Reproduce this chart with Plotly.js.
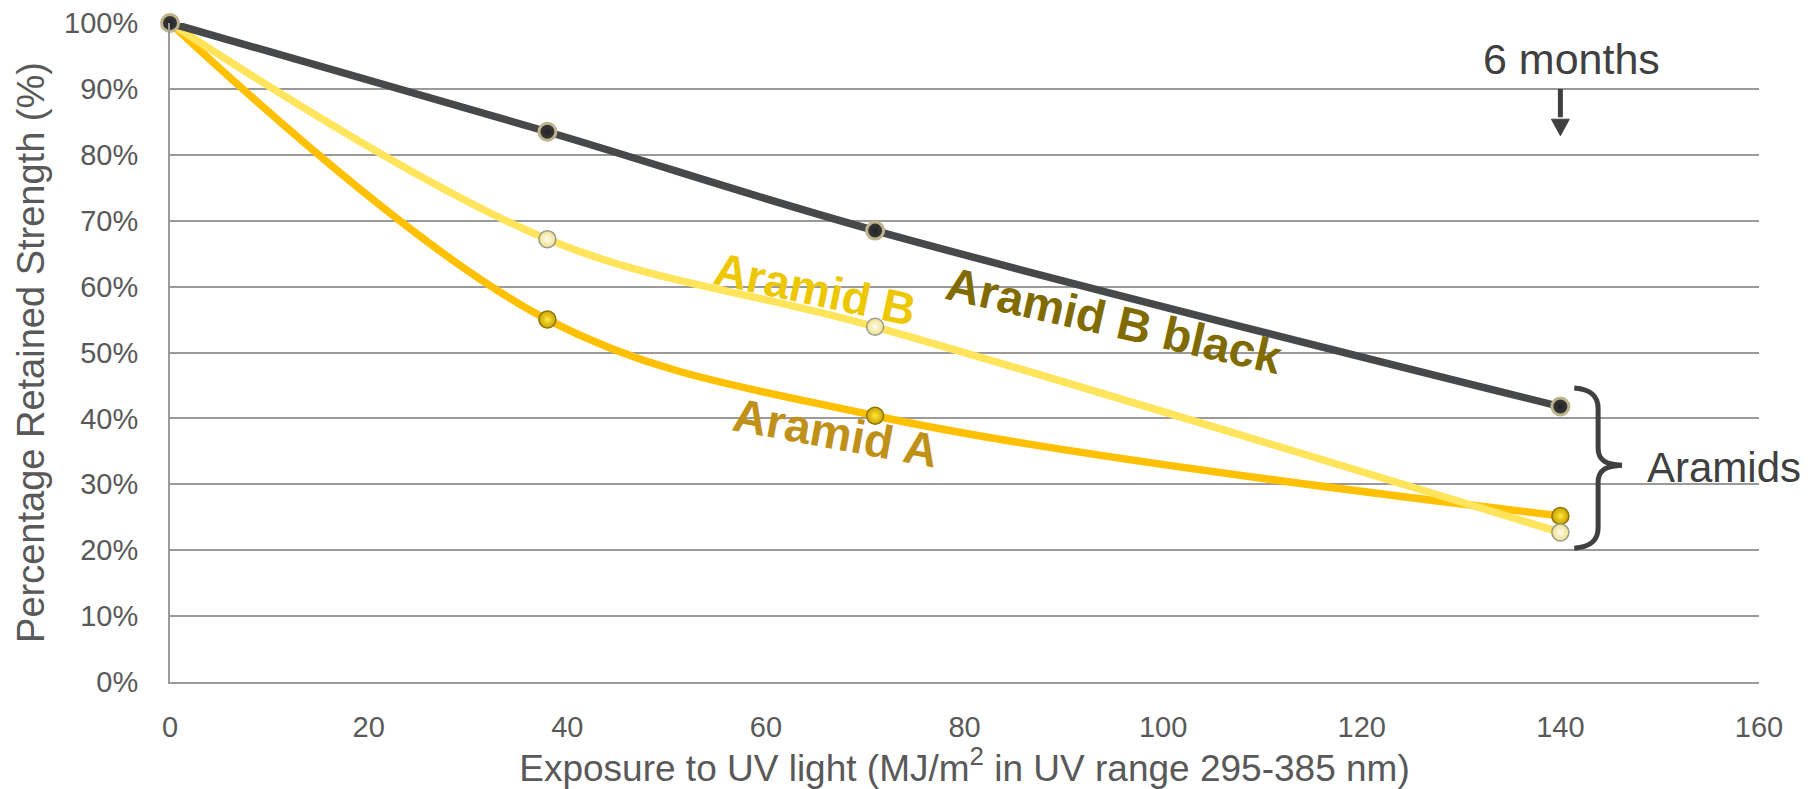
<!DOCTYPE html>
<html>
<head>
<meta charset="utf-8">
<script src="https://cdn.plot.ly/plotly-3.0.1.min.js"></script>
<style>
  html, body { margin: 0; padding: 0; background: #ffffff; }
  #chart { width: 1808px; height: 789px; }
</style>
</head>
<body>
<div id="chart"></div>
<script>
// UV exposure (MJ/m² in the 295-385 nm band)
const exposure = [0, 38, 71, 140];

// Retained tensile strength, percent
const aramidA      = [100, 55.0, 40.4, 25.2];
const aramidB      = [100, 67.2, 53.9, 22.7];
const aramidBBlack = [100, 83.5, 68.5, 41.8];

const xTicks = [0, 20, 40, 60, 80, 100, 120, 140, 160];
const yTicks = [0, 10, 20, 30, 40, 50, 60, 70, 80, 90, 100];

const FONT = 'Liberation Sans, Arial, Helvetica, sans-serif';
const INK = '#404040';

function series(name, y, lineColor, marker) {
  return {
    type: 'scatter',
    mode: 'lines+markers',
    name: name,
    x: exposure,
    y: y,
    cliponaxis: false,
    line: { color: lineColor, width: 7.5, shape: 'spline', smoothing: 1 },
    marker: marker,
    hoverinfo: 'x+y+name'
  };
}

const traces = [
  series('Aramid A', aramidA, '#FFC000', {
    size: 17, color: '#c9a200',
    gradient: { type: 'radial', color: '#ffe83a' },
    line: { color: '#8f7400', width: 1.5 }
  }),
  series('Aramid B', aramidB, '#FFE45C', {
    size: 17, color: '#efe08a',
    gradient: { type: 'radial', color: '#fffdf0' },
    line: { color: '#9a9a90', width: 1.5 }
  }),
  series('Aramid B black', aramidBBlack, '#46484a', {
    size: 17, color: '#3c3c38',
    gradient: { type: 'radial', color: '#222327' },
    line: { color: '#bdb48e', width: 3 }
  })
];

// Curly brace grouping the 140 MJ/m² end points
const bx0 = 141.4, bxv = 143.8, bxt = 146.2;
const byTop = 44.6, byTip = 32.9, byBot = 20.3;
const bracePath =
  `M ${bx0},${byTop} C ${bx0 + 1.6},${byTop - 0.2} ${bxv},${byTop - 1.1} ${bxv},${byTop - 3.1} ` +
  `L ${bxv},${byTip + 2.6} C ${bxv},${byTip + 0.7} ${bxv + 0.8},${byTip + 0.1} ${bxt},${byTip} ` +
  `C ${bxv + 0.8},${byTip - 0.1} ${bxv},${byTip - 0.7} ${bxv},${byTip - 2.6} ` +
  `L ${bxv},${byBot + 3.1} C ${bxv},${byBot + 1.1} ${bx0 + 1.6},${byBot + 0.2} ${bx0},${byBot}`;

// Downward arrow marking the six-month exposure (x = 140)
const arrowX = 140, arrowTop = 90.0, arrowBase = 85.4, arrowTip = 82.9, arrowHalf = 0.9;
const arrowHead = `M ${arrowX - arrowHalf},${arrowBase} L ${arrowX + arrowHalf},${arrowBase} L ${arrowX},${arrowTip} Z`;

const layout = {
  width: 1808,
  height: 789,
  margin: { l: 170, r: 49, t: 23, b: 107 },
  paper_bgcolor: '#ffffff',
  plot_bgcolor: '#ffffff',
  showlegend: false,
  font: { family: FONT, color: '#595959' },
  xaxis: {
    range: [0, 160],
    tickvals: xTicks,
    ticktext: xTicks.map(String),
    showgrid: false,
    zeroline: false,
    showline: true,
    linecolor: '#9a9a9a',
    linewidth: 2,
    ticks: '',
    ticklabelstandoff: 18,
    tickfont: { family: FONT, size: 29, color: '#595959' },
    title: {
      text: 'Exposure to UV light (MJ/m<sup>2</sup> in UV range 295-385 nm)',
      font: { family: FONT, size: 37, color: '#595959' },
      standoff: 12
    }
  },
  yaxis: {
    range: [0, 100],
    tickvals: yTicks,
    ticktext: yTicks.map(v => v + '%'),
    showgrid: true,
    gridcolor: '#9a9a9a',
    gridwidth: 2,
    zeroline: false,
    showline: true,
    linecolor: '#9a9a9a',
    linewidth: 2,
    ticks: '',
    ticklabelstandoff: 24,
    tickfont: { family: FONT, size: 29, color: '#595959' },
    title: {
      text: 'Percentage Retained Strength (%)',
      font: { family: FONT, size: 38, color: '#595959' },
      standoff: 8
    }
  },
  shapes: [
    {
      type: 'path', xref: 'x', yref: 'y', path: bracePath,
      line: { color: INK, width: 5 }
    },
    {
      type: 'line', xref: 'x', yref: 'y',
      x0: arrowX, x1: arrowX, y0: arrowTop, y1: arrowBase + 0.3,
      line: { color: INK, width: 5 }
    },
    {
      type: 'path', xref: 'x', yref: 'y', path: arrowHead,
      fillcolor: INK, line: { color: INK, width: 1 }
    }
  ],
  annotations: [
    {
      xref: 'x', yref: 'y', x: 64.9, y: 59.7,
      text: '<b>Aramid B</b>', showarrow: false, textangle: 12,
      font: { family: FONT, size: 46, color: '#EDC800' }
    },
    {
      xref: 'x', yref: 'y', x: 95.1, y: 54.9,
      text: '<b>Aramid B black</b>', showarrow: false, textangle: 12.8,
      font: { family: FONT, size: 47, color: '#7F6B00' }
    },
    {
      xref: 'x', yref: 'y', x: 67.0, y: 37.8,
      text: '<b>Aramid A</b>', showarrow: false, textangle: 10.5,
      font: { family: FONT, size: 47, color: '#BF9119' }
    },
    {
      xref: 'x', yref: 'y', x: 141.1, y: 94.5,
      text: '6 months', showarrow: false,
      font: { family: FONT, size: 43, color: INK }
    },
    {
      xref: 'x', yref: 'y', x: 148.5, y: 32.5, xanchor: 'left',
      text: 'Aramids', showarrow: false,
      font: { family: FONT, size: 42, color: INK }
    }
  ]
};

Plotly.newPlot('chart', traces, layout, { displayModeBar: false, staticPlot: true });
</script>
</body>
</html>
